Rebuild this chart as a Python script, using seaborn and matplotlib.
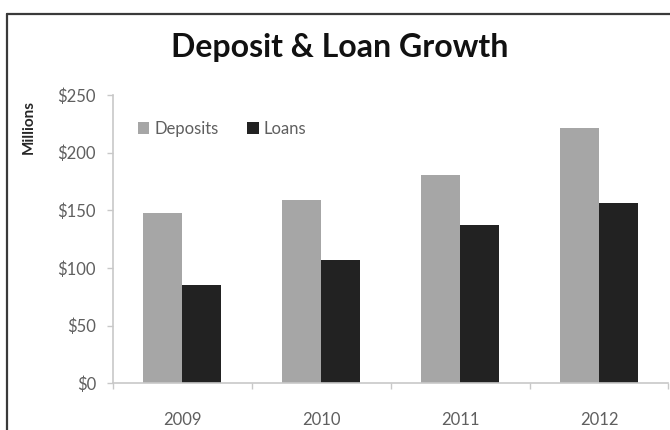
import matplotlib
matplotlib.use("Agg")
import matplotlib.pyplot as plt
import seaborn as sns
import pandas as pd
from matplotlib.lines import Line2D

years = ["2009", "2010", "2011", "2012"]
deposits = [148, 159, 181, 221]
loans = [85, 107, 137, 156]
series_names = ["Deposits", "Loans"]
y_ticks = [0, 50, 100, 150, 200, 250]
y_tick_labels = ["$0", "$50", "$100", "$150", "$200", "$250"]

df = pd.DataFrame({
    "Year": years * 2,
    "Value": deposits + loans,
    "Series": [series_names[0]] * len(years) + [series_names[1]] * len(years),
})

sns.set_theme(style="white")
plt.rcParams["font.family"] = ["Lato", "DejaVu Sans"]

W, H = 670, 430
fig = plt.figure(figsize=(W / 100, H / 100), dpi=100)
ax_left, ax_right, ax_top, ax_bottom = 112.7, 668.5, 95.0, 383.3
ax = fig.add_axes([ax_left / W, 1 - ax_bottom / H, (ax_right - ax_left) / W, (ax_bottom - ax_top) / H])

sns.barplot(data=df, x="Year", y="Value", hue="Series", order=years, hue_order=series_names,
            palette={"Deposits": "#a6a6a6", "Loans": "#222222"}, width=0.56, ax=ax,
            saturation=1, linewidth=0)

ax.set_ylim(0, 250)
ax.set_xlim(-0.5, len(years) - 0.5)
ax.set_yticks(y_ticks)
ax.set_yticklabels(y_tick_labels)
ax.set_xlabel("")
ax.set_ylabel("")

axis_color = "#c8c8c8"
label_color = "#5f5f5f"
for side in ["top", "right"]:
    ax.spines[side].set_visible(False)
for side in ["left", "bottom"]:
    ax.spines[side].set_color(axis_color)
    ax.spines[side].set_linewidth(1.2)

ax.tick_params(axis="y", which="major", direction="out", length=4, width=1, color=axis_color,
               left=True, labelsize=12, labelcolor=label_color, pad=8)
ax.tick_params(axis="x", which="major", length=0, labelsize=12, labelcolor=label_color, pad=21)
ax.set_xticks([i - 0.5 for i in range(len(years) + 1)], minor=True)
ax.tick_params(axis="x", which="minor", direction="out", length=4, width=1, color=axis_color, bottom=True)

handles, labels = ax.get_legend_handles_labels()
leg = ax.legend(handles, labels, ncol=2, frameon=False, loc="upper left",
                bbox_to_anchor=((131 - ax_left) / (ax_right - ax_left), (ax_bottom - 114) / (ax_bottom - ax_top)),
                handlelength=0.7, handleheight=0.7, handletextpad=0.3, columnspacing=1.7,
                fontsize=12, borderaxespad=0)
for t in leg.get_texts():
    t.set_color(label_color)

fig.text(340 / W, 1 - 47 / H, "Deposit & Loan Growth", ha="center", va="center",
         fontsize=23, fontweight="bold", color="#111111")
fig.text(29 / W, 1 - 127 / H, "Millions", ha="center", va="center", rotation=90,
         fontsize=11, fontweight="bold", color="#262626")

border_color = "#3a3a3a"
fig.add_artist(Line2D([7 / W, 7 / W], [0, 1 - 14 / H], transform=fig.transFigure, color=border_color, lw=1.6))
fig.add_artist(Line2D([7 / W, 1], [1 - 14 / H, 1 - 14 / H], transform=fig.transFigure, color=border_color, lw=1.6))

fig.savefig("out.png", dpi=100)
